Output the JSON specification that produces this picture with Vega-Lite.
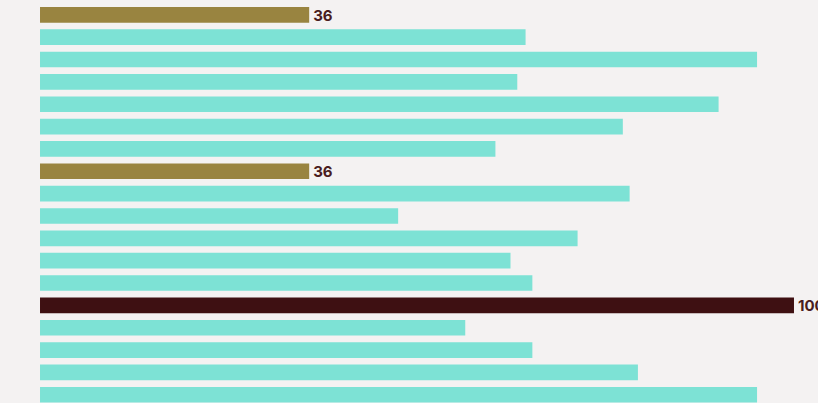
{
  "$schema": "https://vega.github.io/schema/vega-lite/v6.json",
  "autosize": "none",
  "width": 754,
  "height": 402.3,
  "padding": {"left": 40, "top": 3.65, "right": 24, "bottom": 0},
  "background": "#f4f2f2",
  "config": {"view": {"stroke": null}},
  "data": {"values": [
    {"row": 1, "value": 35.7, "group": "highlight", "label": "36"},
    {"row": 2, "value": 64.4, "group": "base", "label": ""},
    {"row": 3, "value": 95.1, "group": "base", "label": ""},
    {"row": 4, "value": 63.3, "group": "base", "label": ""},
    {"row": 5, "value": 90.0, "group": "base", "label": ""},
    {"row": 6, "value": 77.3, "group": "base", "label": ""},
    {"row": 7, "value": 60.4, "group": "base", "label": ""},
    {"row": 8, "value": 35.7, "group": "highlight", "label": "36"},
    {"row": 9, "value": 78.2, "group": "base", "label": ""},
    {"row": 10, "value": 47.5, "group": "base", "label": ""},
    {"row": 11, "value": 71.3, "group": "base", "label": ""},
    {"row": 12, "value": 62.4, "group": "base", "label": ""},
    {"row": 13, "value": 65.3, "group": "base", "label": ""},
    {"row": 14, "value": 100, "group": "max", "label": "100"},
    {"row": 15, "value": 56.4, "group": "base", "label": ""},
    {"row": 16, "value": 65.3, "group": "base", "label": ""},
    {"row": 17, "value": 79.3, "group": "base", "label": ""},
    {"row": 18, "value": 95.1, "group": "base", "label": ""}
  ]},
  "encoding": {
    "y": {"field": "row", "type": "ordinal", "axis": null,
          "scale": {"paddingInner": 0.3, "paddingOuter": 0.15}},
    "x": {"field": "value", "type": "quantitative", "axis": null,
          "scale": {"domain": [0, 100], "nice": false, "zero": true}}
  },
  "layer": [
    {
      "mark": {"type": "bar", "cornerRadius": 0},
      "encoding": {
        "color": {"field": "group", "type": "nominal", "legend": null,
                  "scale": {"domain": ["base", "highlight", "max"],
                            "range": ["#7de2d5", "#998440", "#3e1012"]}}
      }
    },
    {
      "mark": {"type": "text", "align": "left", "baseline": "middle", "dx": 4, "dy": 1,
               "font": "Inter", "fontSize": 15, "fontWeight": "bold", "color": "#4a1c20"},
      "encoding": {"text": {"field": "label"}}
    }
  ]
}
